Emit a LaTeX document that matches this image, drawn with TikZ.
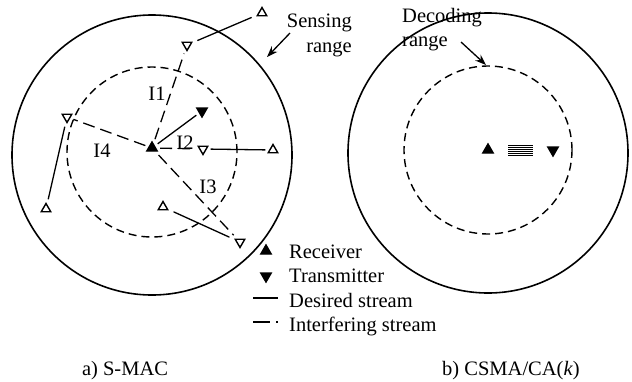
\documentclass[tikz,border=0pt]{standalone}
\usepackage{fontspec}
\setmainfont{Liberation Serif}
\usetikzlibrary{shapes.geometric,arrows.meta,calc}

\begin{document}
\begin{tikzpicture}[x=1pt,y=-1pt,
  every node/.style={font=\fontsize{20.5}{24.5}\selectfont,inner sep=0pt},
  tri/.style={regular polygon,regular polygon sides=3,draw,line width=1.4pt,minimum size=11pt,outer sep=4pt},
  rx/.style={tri,fill=black,minimum size=12pt},
  tx/.style={rx,shape border rotate=180},
  orx/.style={tri},
  otx/.style={tri,shape border rotate=180},
  wanted/.style={line width=1.3pt},
  interf/.style={line width=1.3pt,dash pattern=on 12pt off 6pt},
  sensing/.style={line width=1.6pt},
  decoding/.style={line width=1.4pt,dash pattern=on 8pt off 5pt},
  pointer/.style={line width=1.3pt,-{Stealth[length=11pt,width=8pt]}}]

\useasboundingbox (0,0) rectangle (632,381);

% a) S-MAC
\draw[sensing] (152,155) circle (140pt);
\draw[decoding] (152,152) circle (85pt);

\node[rx] (r) at (152,148) {};
\node[tx] (t0) at (202,111) {};
\node[otx] (t1) at (187,45) {};
\node[orx] (r1) at (262,13) {};
\node[otx] (t2) at (203,149) {};
\node[orx] (r2) at (273,150) {};
\node[otx] (t3) at (240,242) {};
\node[orx] (r3) at (163,207) {};
\node[otx] (t4) at (67,117) {};
\node[orx] (r4) at (46,209) {};

\draw[wanted] (t0) -- (r);
\draw[wanted] (t1) -- (r1);
\draw[wanted] (t2) -- (r2);
\draw[wanted] (t3) -- (r3);
\draw[wanted] (t4) -- (r4);

\draw[interf] (r) -- (t1);
\draw[interf] (r) -- (t2);
\draw[interf] (r) -- (t3);
\draw[interf] (r) -- (t4);

\node (i1) at (157,94) {I1};
\node (i2) at (185,143) {I2};
\node (i3) at (208,187) {I3};
\node (i4) at (102,151) {I4};

\node[align=right,anchor=north east] (sense) at (352,14) {Sensing\\range};
\coordinate (sfrom) at (290,33);
\coordinate (sto) at (267,57);
\draw[pointer] (sfrom) -- (sto);

% legend
\node[rx] (lr) at (266,251) {};
\node[anchor=base west] (lrt) at (289,258) {Receiver};
\node[tx] (lt) at (266,276) {};
\node[anchor=base west] (ltt) at (289,282) {Transmitter};
\coordinate (ld1) at (253,298);
\coordinate (ld2) at (278,298);
\draw[wanted] (ld1) -- (ld2);
\node[anchor=base west] (ldt) at (289,307) {Desired stream};
\coordinate (li1) at (253,322);
\coordinate (li2) at (279,322);
\draw[line width=1.3pt,dash pattern=on 17pt off 6pt on 2pt off 10pt] (li1) -- (li2);
\node[anchor=base west] (lit) at (289,331) {Interfering stream};

\node[anchor=base] (capa) at (125,375) {a) S-MAC};

% b) CSMA/CA(k)
\draw[sensing] (488,153) circle (140pt);
\draw[decoding] (488,150) circle (84pt);

\node[rx] (rr) at (488,150) {};
\node[tx] (tt) at (553,150) {};
\foreach \k in {0,...,5}
  \draw[line width=0.9pt] ($(rr)+(20,-5+2*\k)$) -- ($(tt)+(-20,-5+2*\k)$);

\node[align=left,anchor=north west] (decode) at (402,8) {Decoding\\range};
\coordinate (dfrom) at (461,42);
\coordinate (dto) at (486,65);
\draw[pointer] (dfrom) -- (dto);

\node[anchor=base west] (capb) at (442,375) {b) CSMA/CA(\textit{k})};

\end{tikzpicture}
\end{document}
